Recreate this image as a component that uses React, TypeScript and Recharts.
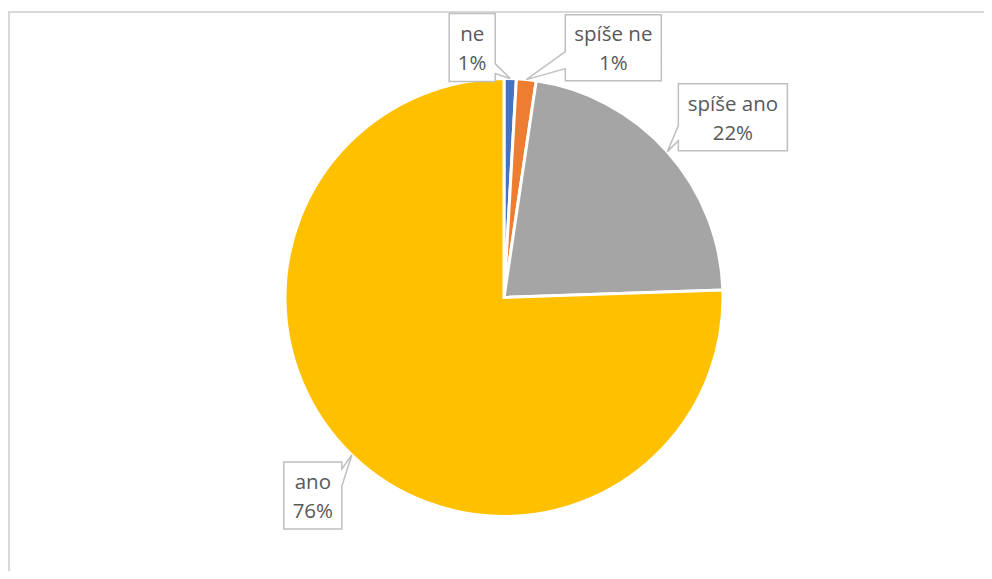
import { Pie, PieChart, Cell } from "recharts";

const categories = ["ne", "spíše ne", "spíše ano", "ano"];
const values = [0.9, 1.45, 22.1, 75.55];
const colors = ["#4472C4", "#ED7D31", "#A5A5A5", "#FFC000"];

// callout boxes, placed relative to the point on the rim at each slice's mid angle
const callouts = [
  { dx: -61, dy: -65, w: 46, h: 68, edge: "right", b1: 50, b2: 60 },
  { dx: 39, dy: -65, w: 96, h: 66, edge: "left", b1: 37, b2: 54 },
  { dx: 11, dy: -68, w: 109, h: 67, edge: "left", b1: 42, b2: 57 },
  { dx: -68, dy: 7, w: 58, h: 67, edge: "right", b1: 7, b2: 24 },
];

const data = categories.map((name, i) => ({ name, value: values[i] }));

const RADIAN = Math.PI / 180;

const calloutPath = (
  x: number,
  y: number,
  w: number,
  h: number,
  edge: string,
  b1: number,
  b2: number,
  tx: number,
  ty: number
): string => {
  if (edge === "right") {
    return `M${x},${y} H${x + w} V${y + b1} L${tx},${ty} L${x + w},${y + b2} V${y + h} H${x} Z`;
  }
  return `M${x},${y} H${x + w} V${y + h} H${x} V${y + b2} L${tx},${ty} L${x},${y + b1} Z`;
};

const renderLabel = (props: any) => {
  const { cx, cy, midAngle, outerRadius, index, percent, name } = props;
  const c = callouts[index];
  const tx = cx + outerRadius * Math.cos(-midAngle * RADIAN);
  const ty = cy + outerRadius * Math.sin(-midAngle * RADIAN);
  const x = tx + c.dx;
  const y = ty + c.dy;
  const mx = x + c.w / 2;
  const my = y + c.h / 2;
  return (
    <g key={`lbl-${index}`}>
      <path
        d={calloutPath(x, y, c.w, c.h, c.edge, c.b1, c.b2, tx, ty)}
        fill="#ffffff"
        stroke="#bfbfbf"
        strokeWidth={1.5}
        strokeLinejoin="miter"
      />
      <text
        x={mx}
        y={my - 14.5}
        textAnchor="middle"
        dominantBaseline="central"
        fill="#595959"
        fontSize={20.5}
        fontFamily="'Open Sans', sans-serif"
      >
        {name}
      </text>
      <text
        x={mx}
        y={my + 14.5}
        textAnchor="middle"
        dominantBaseline="central"
        fill="#595959"
        fontSize={20.5}
        fontFamily="'Open Sans', sans-serif"
      >
        {`${Math.round(percent * 100)}%`}
      </text>
    </g>
  );
};

export default function App() {
  return (
    <div style={{ position: "relative", width: 976, height: 563 }}>
      <div
        style={{
          position: "absolute",
          left: 0,
          top: 3,
          width: 976,
          height: 560,
          borderTop: "2px solid #d9d9d9",
          borderLeft: "2px solid #d9d9d9",
          boxSizing: "border-box",
        }}
      />
      <div style={{ position: "absolute", left: 0, top: 0 }}>
        <PieChart
          width={976}
          height={563}
          margin={{ top: 0, right: 0, bottom: 0, left: 0 }}
        >
          <Pie
            data={data}
            dataKey="value"
            nameKey="name"
            cx={496}
            cy={289.5}
            outerRadius={219}
            startAngle={90}
            endAngle={-270}
            stroke="#ffffff"
            strokeWidth={3}
            label={renderLabel}
            labelLine={false}
            isAnimationActive={false}
          >
            {data.map((d, i) => (
              <Cell key={d.name} fill={colors[i]} />
            ))}
          </Pie>
        </PieChart>
      </div>
    </div>
  );
}
